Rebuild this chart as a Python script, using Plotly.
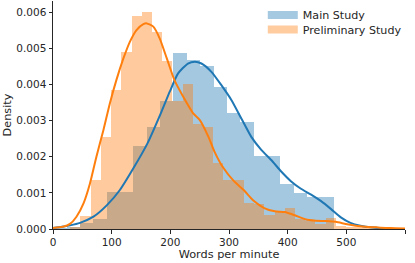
import numpy as np
import plotly.graph_objects as go

# ---- data ----
# Main Study histogram (density), equal-width bins
main_bin_start = 0.5
main_bin_width = 22.76
main_density = [0.00002, 0.00006, 0.00017, 0.00028, 0.00103, 0.00103, 0.00230, 0.00283,
                0.00354, 0.00486, 0.00469, 0.00452, 0.00392, 0.00320, 0.00295, 0.00202,
                0.00202, 0.001245, 0.00100, 0.00088, 0.00088]

# Preliminary Study histogram (density)
pre_bin_start = 29.4
pre_bin_width = 17.41
pre_density = [0.00006, 0.00037, 0.00135, 0.00255, 0.00384, 0.00490, 0.00590, 0.00601,
               0.00546, 0.00465, 0.00354, 0.00401, 0.00290, 0.00281, 0.00182, 0.00135,
               0.00135, 0.00071, 0.00069, 0.00039, 0.00046, 0.00057, 0.00028, 0.00023,
               0.00013, 0.00031, 0.00008, 0.00005, 0.00005, 0.00008]

# KDE curves
main_kde_x = [0, 15, 29, 46, 69, 92, 114, 137, 161, 185, 199, 213, 230, 242, 253, 270,
              287, 304, 321, 338, 355, 372, 389, 405, 422, 440, 457, 474, 490, 507, 524,
              545, 570, 600]
main_kde_y = [0.00003, 0.00006, 0.00010, 0.00017, 0.00034, 0.00066, 0.00108, 0.00168,
              0.00237, 0.00325, 0.00380, 0.00430, 0.00458, 0.00463, 0.00458, 0.00435,
              0.00398, 0.00357, 0.00306, 0.00255, 0.00219, 0.00191, 0.00159, 0.00133,
              0.00112, 0.00095, 0.00077, 0.00055, 0.00033, 0.00017, 0.00009, 0.00004,
              0.00001, 0.0]

pre_kde_x = [0, 17, 29, 40, 52, 63, 74, 86, 97, 108, 120, 131, 142, 154, 160, 171, 182,
             194, 207, 222, 239, 250, 265, 275, 290, 308, 325, 342, 360, 378, 395, 412,
             430, 448, 465, 482, 499, 516, 533, 550, 567, 584, 600]
pre_kde_y = [0.00003, 0.00006, 0.00014, 0.00034, 0.00071, 0.00126, 0.00200, 0.00274,
             0.00348, 0.00412, 0.00472, 0.00518, 0.00550, 0.00567, 0.00569, 0.00560,
             0.00527, 0.00472, 0.00412, 0.00366, 0.00320, 0.00302, 0.00255, 0.00215,
             0.00170, 0.00133, 0.00108, 0.00078, 0.00058, 0.00049, 0.00047, 0.00038,
             0.00027, 0.00023, 0.00022, 0.00020, 0.00014, 0.00009, 0.00006, 0.000045,
             0.00003, 0.00002, 0.000015]

series_names = ["Main Study", "Preliminary Study"]
x_ticks = [0, 100, 200, 300, 400, 500, 600]
y_ticks = [0.000, 0.001, 0.002, 0.003, 0.004, 0.005, 0.006]

BLUE = "#1f77b4"
ORANGE = "#ff7f0e"
TXT = "#262626"
FONT = "DejaVu Sans"

main_left = main_bin_start + main_bin_width * np.arange(len(main_density))
pre_left = pre_bin_start + pre_bin_width * np.arange(len(pre_density))

fig = go.Figure()
fig.add_trace(go.Bar(x=main_left, y=main_density, width=main_bin_width, offset=0,
                     marker=dict(color=BLUE, line=dict(width=0)), opacity=0.4,
                     showlegend=False, hoverinfo="skip"))
fig.add_trace(go.Bar(x=pre_left, y=pre_density, width=pre_bin_width, offset=0,
                     marker=dict(color=ORANGE, line=dict(width=0)), opacity=0.4,
                     showlegend=False, hoverinfo="skip"))
fig.add_trace(go.Scatter(x=main_kde_x, y=main_kde_y, mode="lines",
                         line=dict(color=BLUE, width=2, shape="spline", smoothing=0.6),
                         showlegend=False, hoverinfo="skip"))
fig.add_trace(go.Scatter(x=pre_kde_x, y=pre_kde_y, mode="lines",
                         line=dict(color=ORANGE, width=2, shape="spline", smoothing=0.6),
                         showlegend=False, hoverinfo="skip"))
# legend entries (patch-like), one legend each so the row spacing matches
fig.add_trace(go.Scatter(x=[None], y=[None], mode="lines", name=series_names[0],
                         line=dict(color="rgba(31,119,180,0.4)", width=8), legend="legend"))
fig.add_trace(go.Scatter(x=[None], y=[None], mode="lines", name=series_names[1],
                         line=dict(color="rgba(255,127,14,0.4)", width=8), legend="legend2"))

leg_common = dict(xanchor="left", yanchor="middle", bgcolor="rgba(255,255,255,0)",
                  font=dict(family=FONT, size=11.1, color=TXT), itemwidth=30,
                  borderwidth=0)
fig.update_layout(
    width=415, height=263,
    margin=dict(l=53, r=10, t=1, b=34, autoexpand=False),
    plot_bgcolor="white", paper_bgcolor="white",
    barmode="overlay", bargap=0,
    font=dict(family=FONT, size=10.5, color=TXT),
    legend=dict(x=0.596, y=0.9386, **leg_common),
    legend2=dict(x=0.596, y=0.875, **leg_common),
)
fig.update_xaxes(range=[0, 600], tickvals=x_ticks, ticks="outside", ticklen=3.5,
                 tickwidth=1, tickcolor=TXT, showline=True, linecolor=TXT, linewidth=1,
                 showgrid=False, zeroline=False, automargin=False,
                 title=dict(text="Words per minute", font=dict(size=11.3), standoff=2))
fig.update_yaxes(range=[0, 0.00631], tickvals=y_ticks, tickformat=".3f", ticks="outside",
                 ticklen=3.5, tickwidth=1, tickcolor=TXT, showline=True, linecolor=TXT,
                 linewidth=1, showgrid=False, zeroline=False, automargin=False,
                 title=dict(text="Density", font=dict(size=11.3), standoff=2))

fig.write_html("out.html", config={"displayModeBar": False},
               post_script="document.body.style.margin='0';document.body.style.padding='0';")
